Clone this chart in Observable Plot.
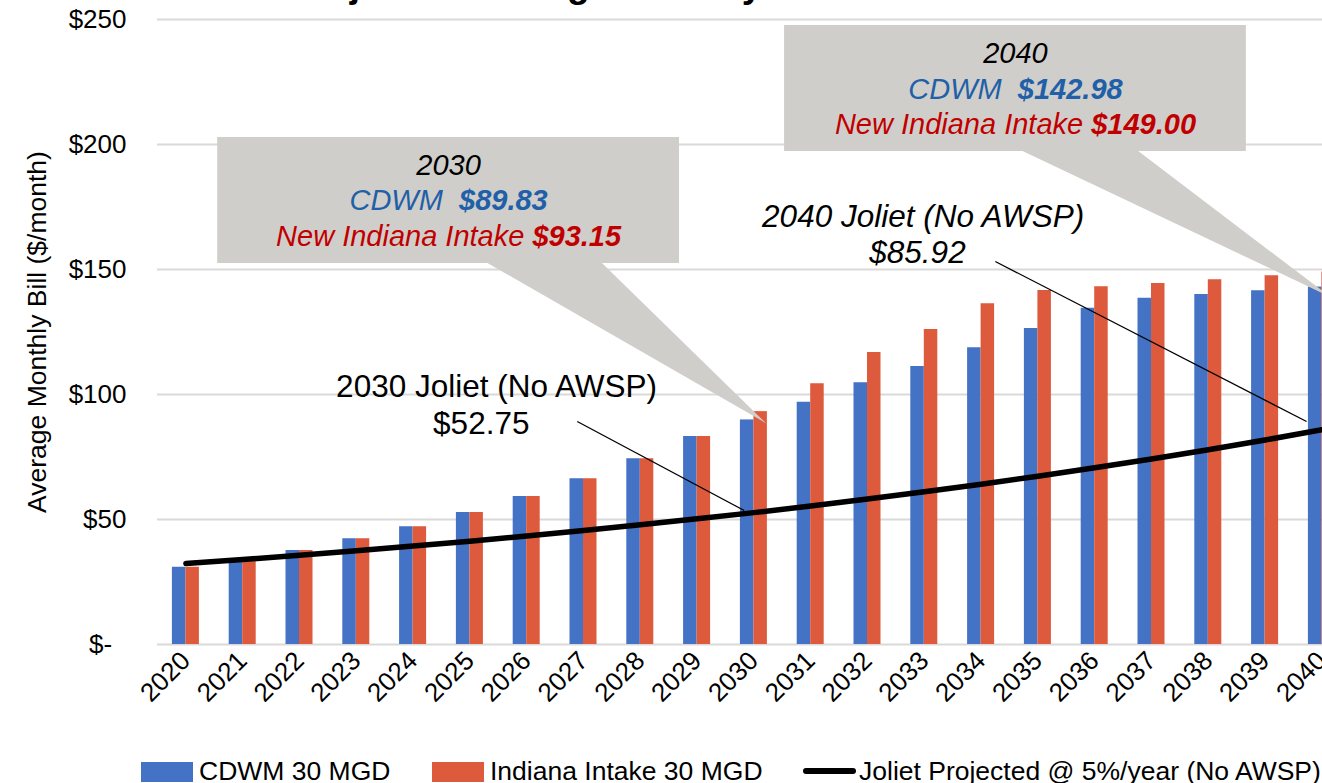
<!DOCTYPE html>
<html>
<head>
<meta charset="utf-8">
<script src="https://cdn.jsdelivr.net/npm/d3@7"></script>
<script src="https://cdn.jsdelivr.net/npm/@observablehq/plot@0.6"></script>
<style>
  html, body { margin: 0; padding: 0; background: #fff; overflow: hidden; }
  #wrap { position: relative; width: 1322px; height: 783px; overflow: hidden; font-family: "Liberation Sans", Arial, sans-serif; }
  #title { position: absolute; left: 288px; top: -34px; font-size: 37px; line-height: 37px; font-weight: bold; white-space: nowrap; color: #000; }
  .lg { position: absolute; font-size: 26.5px; line-height: 26px; top: 758px; white-space: nowrap; color: #000; }
  .sw { position: absolute; }
</style>
</head>
<body>
<div id="wrap">
  <div id="chart"></div>
  <div id="title">Projected Average Monthly Bill</div>
  <div id="legend"></div>
</div>
<script>
// ---------------- data ----------------
const years   = [2020, 2021, 2022, 2023, 2024, 2025, 2026, 2027, 2028, 2029, 2030,
                 2031, 2032, 2033, 2034, 2035, 2036, 2037, 2038, 2039, 2040];
const cdwm    = [30.9, 33.5, 37.6, 42.3, 47.1, 52.8, 59.2, 66.3, 74.3, 83.2, 89.83,
                 96.9, 104.7, 111.2, 118.7, 126.4, 134.5, 138.5, 140.0, 141.5, 142.98];
const indiana = [30.9, 33.5, 37.6, 42.3, 47.1, 52.8, 59.2, 66.3, 74.3, 83.2, 93.15,
                 104.3, 116.8, 126.0, 136.3, 141.6, 143.1, 144.4, 145.9, 147.5, 149.00];
const joliet  = [32.4, 34.0, 35.7, 37.5, 39.4, 41.3, 43.4, 45.6, 47.9, 50.3, 52.75,
                 55.4, 58.2, 61.1, 64.1, 67.3, 70.7, 74.2, 77.9, 81.8, 85.92];
const yTicks  = [0, 50, 100, 150, 200, 250];
const seriesNames = ["CDWM 30 MGD", "Indiana Intake 30 MGD", "Joliet Projected @ 5%/year (No AWSP)"];
const seriesColors = ["#4472C4", "#DE5A3C", "#000000"];
const yTitle = "Average Monthly Bill ($/month)";

// callout boxes (data units: years, $)
const calloutYears = [2030, 2040];
const calloutCdwm = ["$89.83", "$142.98"];
const calloutIndiana = ["$93.15", "$149.00"];
const calloutBoxX = [[2020.56, 2028.69], [2030.54, 2038.67]];
const calloutBoxY = [[152.4, 202.8], [197.2, 247.6]];
const calloutBaseX = [[2025.30, 2027.32], [2034.72, 2036.76]];
const calloutTip = [[2030.22, 88.4], [2040.15, 139.0]];
const calloutLineY = [[191.6, 177.6, 163.2], [236.4, 222.0, 208.0]];

// Joliet annotations
const jolietLabels = ["2030 Joliet (No AWSP)", "2040 Joliet (No AWSP)"];
const jolietValues = ["$52.75", "$85.92"];
const jolietLabelPos = [[2025.47, 103.2], [2032.98, 171.2]];
const jolietValuePos = [[2025.20, 88.4], [2032.88, 156.8]];
const leaderFrom = [[2026.89, 89.2], [2034.25, 153.2]];
const leaderTo = [[2029.83, 53.6], [2039.73, 89.2]];

// ---------------- chart ----------------
const FONT = '"Liberation Sans", Arial, sans-serif';
const X0 = 157, X1 = 1349.8, XD = [2019.5, 2040.5];
const pxPerYear = (X1 - X0) / (XD[1] - XD[0]);
const half = 13.5 / pxPerYear;

const data = years.map((y, i) => ({year: y, cdwm: cdwm[i], indiana: indiana[i], joliet: joliet[i]}));

const ctx = document.createElement("canvas").getContext("2d");
function measure(text, font) { ctx.font = font; return ctx.measureText(text).width; }

const CS = 29; // callout font size
const JS = 31.5; // Joliet annotation font size
const callTexts = [];
calloutYears.forEach((yr, i) => {
  const cx = (calloutBoxX[i][0] + calloutBoxX[i][1]) / 2;
  const ly = calloutLineY[i];
  callTexts.push({x: cx, y: ly[0], text: String(yr), fill: "#000000", bold: false, anchor: "middle"});
  const a2 = "CDWM  ", b2 = calloutCdwm[i];
  const wa2 = measure(a2, `italic ${CS}px ${FONT}`), wb2 = measure(b2, `italic bold ${CS}px ${FONT}`);
  const s2 = -(wa2 + wb2) / 2;
  callTexts.push({x: cx + s2 / pxPerYear, y: ly[1], text: a2.trim(), fill: "#1F60A8", bold: false, anchor: "start"});
  callTexts.push({x: cx + (s2 + wa2) / pxPerYear, y: ly[1], text: b2, fill: "#1F60A8", bold: true, anchor: "start"});
  const a3 = "New Indiana Intake ", b3 = calloutIndiana[i];
  const wa3 = measure(a3, `italic ${CS}px ${FONT}`), wb3 = measure(b3, `italic bold ${CS}px ${FONT}`);
  const s3 = -(wa3 + wb3) / 2;
  callTexts.push({x: cx + s3 / pxPerYear, y: ly[2], text: a3.trim(), fill: "#C00000", bold: false, anchor: "start"});
  callTexts.push({x: cx + (s3 + wa3) / pxPerYear, y: ly[2], text: b3, fill: "#C00000", bold: true, anchor: "start"});
});

const boxes = calloutYears.map((yr, i) => ({x1: calloutBoxX[i][0], x2: calloutBoxX[i][1], y1: calloutBoxY[i][0], y2: calloutBoxY[i][1]}));
const pointers = [];
calloutYears.forEach((yr, i) => {
  pointers.push({id: i, x: calloutBaseX[i][0], y: calloutBoxY[i][0] + 0.3});
  pointers.push({id: i, x: calloutTip[i][0], y: calloutTip[i][1]});
  pointers.push({id: i, x: calloutBaseX[i][1], y: calloutBoxY[i][0] + 0.3});
});
const leaders = leaderFrom.map((f, i) => ({x1: f[0], y1: f[1], x2: leaderTo[i][0], y2: leaderTo[i][1]}));

const plot = Plot.plot({
  width: 1322,
  height: 783,
  marginLeft: X0,
  marginRight: 0,
  marginTop: 19,
  marginBottom: 139,
  style: {fontFamily: FONT, background: "transparent", color: "#000"},
  x: {domain: XD, range: [X0, X1]},
  y: {domain: [0, 250], range: [644, 19]},
  marks: [
    Plot.ruleY(yTicks, {stroke: "#D9D9D9", strokeWidth: 2}),
    Plot.rect(data, {x1: d => d.year - half, x2: d => d.year, y1: 0, y2: "cdwm", fill: seriesColors[0]}),
    Plot.rect(data, {x1: d => d.year, x2: d => d.year + half, y1: 0, y2: "indiana", fill: seriesColors[1]}),
    Plot.rect(boxes, {x1: "x1", x2: "x2", y1: "y1", y2: "y2", fill: "#D0CECA"}),
    Plot.line(pointers, {x: "x", y: "y", z: "id", fill: "#D0CECA", stroke: null, curve: "linear-closed"}),
    Plot.line(data, {x: "year", y: "joliet", stroke: seriesColors[2], strokeWidth: 5.5, strokeLinecap: "round"}),
    Plot.link(leaders, {x1: "x1", y1: "y1", x2: "x2", y2: "y2", stroke: "#000", strokeWidth: 1.3}),
    Plot.axisY(yTicks, {tickFormat: d => d === 0 ? "$-\u2007" : "$" + d, tickSize: 0, tickPadding: 31, fontSize: 26, label: null}),
    Plot.axisX(years, {tickFormat: d => String(d), tickRotate: -45, tickSize: 0, tickPadding: 12, fontSize: 26, label: null}),
    Plot.text([yTitle], {frameAnchor: "left", dx: -120, rotate: -90, textAnchor: "middle", fontSize: 26.5, fill: "#000"}),
    Plot.text(callTexts.filter(d => !d.bold && d.anchor === "middle"), {x: "x", y: "y", text: "text", fill: "fill", fontSize: CS, fontStyle: "italic", textAnchor: "middle"}),
    Plot.text(callTexts.filter(d => !d.bold && d.anchor === "start"), {x: "x", y: "y", text: "text", fill: "fill", fontSize: CS, fontStyle: "italic", textAnchor: "start"}),
    Plot.text(callTexts.filter(d => d.bold), {x: "x", y: "y", text: "text", fill: "fill", fontSize: CS, fontStyle: "italic", fontWeight: "bold", textAnchor: "start"}),
    Plot.text([0], {x: () => jolietLabelPos[0][0], y: () => jolietLabelPos[0][1], text: () => jolietLabels[0], fontSize: JS, fill: "#000"}),
    Plot.text([0], {x: () => jolietValuePos[0][0], y: () => jolietValuePos[0][1], text: () => jolietValues[0], fontSize: JS, fill: "#000"}),
    Plot.text([0], {x: () => jolietLabelPos[1][0], y: () => jolietLabelPos[1][1], text: () => jolietLabels[1], fontSize: JS, fontStyle: "italic", fill: "#000"}),
    Plot.text([0], {x: () => jolietValuePos[1][0], y: () => jolietValuePos[1][1], text: () => jolietValues[1], fontSize: JS, fontStyle: "italic", fill: "#000"})
  ],
  color: {type: "identity"}
});
document.getElementById("chart").appendChild(plot);

// ---------------- legend ----------------
const legend = document.getElementById("legend");
const swLeft = [141, 432, 803];
const txLeft = [199, 490, 859];
seriesNames.forEach((name, i) => {
  const sw = document.createElement("div");
  sw.className = "sw";
  sw.style.left = swLeft[i] + "px";
  sw.style.background = seriesColors[i];
  if (i < 2) { sw.style.top = "762px"; sw.style.width = "52px"; sw.style.height = "20px"; }
  else { sw.style.top = "768px"; sw.style.width = "53px"; sw.style.height = "6px"; sw.style.borderRadius = "3px"; }
  legend.appendChild(sw);
  const tx = document.createElement("div");
  tx.className = "lg";
  tx.style.left = txLeft[i] + "px";
  tx.textContent = name;
  legend.appendChild(tx);
});
</script>
</body>
</html>
